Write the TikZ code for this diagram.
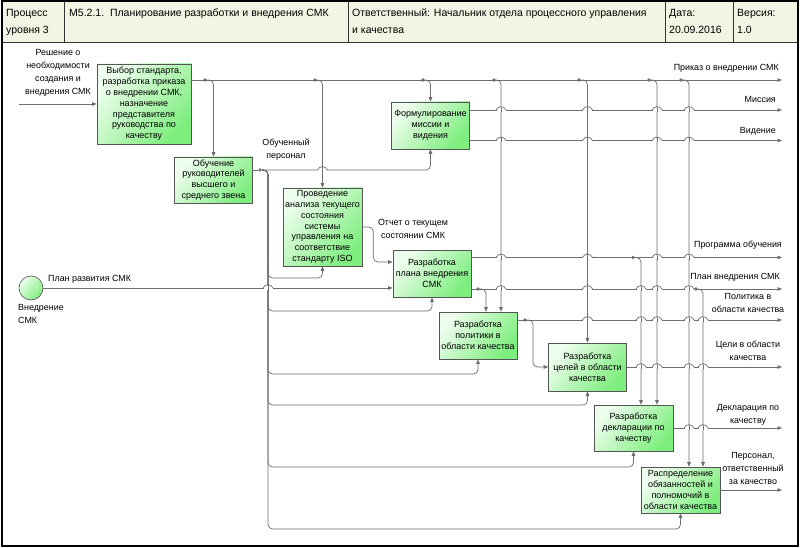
\documentclass[tikz,border=0pt]{standalone}
\usepackage{fontspec}
\setmainfont{Liberation Sans}
\usetikzlibrary{arrows.meta, positioning, calc}
\definecolor{LineGray}{HTML}{6E6E6E}
\definecolor{EdgeGray}{HTML}{555555}
\definecolor{PaleGreen}{HTML}{EEFEEE}
\definecolor{FreshGreen}{HTML}{7EEE7E}
\definecolor{HeadBeige}{HTML}{F4F4E4}
\newcommand{\boxfont}{\fontsize{9}{10.8}\selectfont}
\newcommand{\lblfont}{\fontsize{8.9}{13}\selectfont}
\newcommand{\headfont}{\fontsize{10.5}{17}\selectfont}
% a horizontal connector jumps over a vertical one
\newcommand{\linehop}[2]{%
  \fill[white] (#1-4.5,#2-1.6) rectangle (#1+4.5,#2+1.6);
  \draw[wire] (#1-5,#2) .. controls (#1-3,#2-4.5) and (#1+3,#2-4.5) .. (#1+5,#2);
  \draw[wire] (#1,#2-2) -- (#1,#2+2);}

\begin{document}
\begin{tikzpicture}[x=1pt, y=-1pt,
    wire/.style={draw=LineGray, line width=0.7pt, rounded corners=4.5pt},
    flow/.style={wire, -{Triangle[length=4.5pt, width=3.6pt]}},
    proc/.style={draw=EdgeGray, line width=0.6pt, top color=PaleGreen,
                 bottom color=FreshGreen, shading angle=50, align=center,
                 inner sep=1pt, font=\boxfont, minimum width=78pt, minimum height=47pt},
    joint/.style={circle, fill=LineGray, inner sep=0pt, minimum size=3.8pt},
    lbl/.style={font=\lblfont, align=center, inner sep=1pt},
    head/.style={font=\headfont, align=left, anchor=north west, inner sep=0pt}]
    \useasboundingbox (0,0) rectangle (800,548);

    % frame and title block
    \fill[white] (2,1) rectangle (798,546);
    \filldraw[fill=HeadBeige, draw=black!80, line width=0.8pt] (2,1) rectangle (798,42);
    \foreach \x in {64,348,665,733}
        \draw[black!80, line width=0.8pt] (\x,1) -- (\x,42);
    \draw[black, line width=1.2pt] (2,1) rectangle (798,546);
    \node[head] (h1) at (6,9) {Процесс\\уровня 3};
    \node[head] (h2) at (69,9) {M5.2.1.\ \ Планирование разработки и внедрения СМК};
    \node[head] (h3) at (352,9) {Ответственный: Начальник отдела процессного управления\\и качества};
    \node[head] (h4) at (669,9) {Дата:\\20.09.2016};
    \node[head] (h5) at (737,9) {Версия:\\1.0};

    % activities
    \node[proc, minimum width=94pt, minimum height=80pt] (sel) at (144,104)
        {Выбор стандарта,\\разработка приказа\\о внедрении СМК,\\назначение\\представителя\\руководства по\\качеству};
    \node[proc, minimum height=46pt] (train) at (213.5,180)
        {Обучение\\руководителей\\высшего и\\среднего звена};
    \node[proc, minimum width=79pt, minimum height=78pt] (anal) at (322.5,227)
        {Проведение\\анализа текущего\\состояния\\системы\\управления на\\соответствие\\стандарту ISO};
    \node[proc] (miss) at (430.5,125.5) {Формулирование\\миссии и\\видения};
    \node[proc] (plan) at (432,273.5) {Разработка\\плана внедрения\\СМК};
    \node[proc] (pol) at (478,335.5) {Разработка\\политики в\\области качества};
    \node[proc, minimum height=48pt] (goal) at (587.5,367) {Разработка\\целей в области\\качества};
    \node[proc, minimum width=79pt, minimum height=46pt] (decl) at (633.5,428)
        {Разработка\\декларации по\\качеству};
    \node[proc, minimum width=79pt, minimum height=46pt] (duty) at (680.5,490)
        {Распределение\\обязанностей и\\полномочий в\\области качества};
    \node[circle, draw=EdgeGray, line width=0.6pt, top color=PaleGreen, bottom color=FreshGreen,
          shading angle=50, minimum size=24pt, inner sep=0pt] (beg) at (31,288) {};

    \coordinate (rim) at (782,0);
    \coordinate (src) at (19,104);

    % order and its branches
    \coordinate (oOut) at ([yshift=24pt]sel.east);
    \draw[flow] (src) -- (sel.west);
    \draw[flow] (oOut) -- (oOut -| rim);
    \foreach \x [count=\i] in {205,315,423,494,579,649,681}
        \node[joint] (o\i) at (\x,80) {};
    \draw[flow] (o1) -| (train.north);
    \draw[flow] (o2) -| (anal.north);
    \draw[flow] (o3) -| (miss.north);
    \draw[flow] (o4) -| ([xshift=23pt]pol.north);
    \draw[flow] (o5) -| (goal.north);
    \draw[flow] (o6) -| ([xshift=23.5pt]decl.north);
    \draw[flow] (o7) -| ([xshift=8.5pt]duty.north);

    % trained staff as mechanism
    \node[joint] (tj) at (260,170) {};
    \draw[wire] ([yshift=10pt]train.east) -- (tj);
    \draw[flow] (tj) -| (miss.south);
    \foreach \y/\n in {278/anal, 311/plan, 374/pol, 405/goal, 467/decl, 529/duty}
        \draw[flow] (tj) -| (268,\y) -| (\n.south);

    % mission and vision
    \coordinate (mOut) at ([yshift=15.5pt]miss.east);
    \coordinate (vOut) at ([yshift=-15pt]miss.east);
    \draw[flow] (mOut) -- (mOut -| rim);
    \draw[flow] (vOut) -- (vOut -| rim);

    % report and development plan
    \draw[flow] (anal.east) -- ++(11,0) |- ([yshift=11.5pt]plan.west);
    \draw[flow] (beg.east) -- (beg.east -| plan.west);
    \coordinate (gOut) at ([yshift=16pt]plan.east);
    \coordinate (pOut) at ([yshift=-15.5pt]plan.east);
    \draw[flow] (gOut) -- (gOut -| rim);
    \draw[flow] (pOut) -- (pOut -| rim);
    \node[joint] (gj) at (633,257.5) {};
    \node[joint] (pj1) at (478,289) {};
    \node[joint] (pj2) at (696,289) {};
    \draw[flow] (gj) -| ([xshift=7.5pt]decl.north);
    \draw[flow] (pj1) -| ([xshift=8pt]pol.north);
    \draw[flow] (pj2) -| ([xshift=22.5pt]duty.north);

    % policy, goals, declaration, staff
    \coordinate (lOut) at ([yshift=15.5pt]pol.east);
    \draw[flow] (lOut) -- (lOut -| rim);
    \node[joint] (lj) at (525,320) {};
    \draw[flow] (lj) -- ++(8,0) |- (goal.west);
    \draw[flow] (goal.east) -- (goal.east -| rim);
    \draw[flow] (decl.east) -- (decl.east -| rim);
    \draw[flow] (duty.east) -- (duty.east -| rim);

    % line hops
    \foreach \hx/\hy in {501/110, 587.5/110, 657/110, 689/110,
                         501/140.5, 587.5/140.5, 657/140.5, 689/140.5, 322.5/170,
                         501/257.5, 587.5/257.5, 657/257.5, 689/257.5, 268/288,
                         501/289, 587.5/289, 641/289, 657/289, 689/289,
                         587.5/320, 641/320, 657/320, 689/320, 703/320,
                         641/367, 657/367, 689/367, 703/367, 689/428, 703/428}
        {\linehop{\hx}{\hy}}

    % labels
    \node[lbl] (lsrc) at (58,73) {Решение о\\необходимости\\создания и\\внедрения СМК};
    \node[lbl] (ltr) at (286,150) {Обученный\\персонал};
    \node[lbl] (lrep) at (413,228.5) {Отчет о текущем\\состоянии СМК};
    \node[lbl, anchor=west] (lbeg) at (47,279) {План развития СМК};
    \node[lbl, align=left, anchor=north west] (lname) at (17,303) {Внедрение\\СМК};
    \node[lbl, anchor=east] (lord) at (780,68) {Приказ о внедрении СМК};
    \node[lbl, anchor=east] (lmis) at (777,99) {Миссия};
    \node[lbl, anchor=east] (lvis) at (777,131) {Видение};
    \node[lbl, anchor=east] (lprg) at (783,245) {Программа обучения};
    \node[lbl, anchor=east] (lpln) at (781,277) {План внедрения СМК};
    \node[lbl] (lpol) at (748,303) {Политика в\\области качества};
    \node[lbl] (lgoal) at (748,351) {Цели в области\\качества};
    \node[lbl] (ldecl) at (748,414.5) {Декларация по\\качеству};
    \node[lbl] (lduty) at (753,468) {Персонал,\\ответственный\\за качество};
\end{tikzpicture}
\end{document}
